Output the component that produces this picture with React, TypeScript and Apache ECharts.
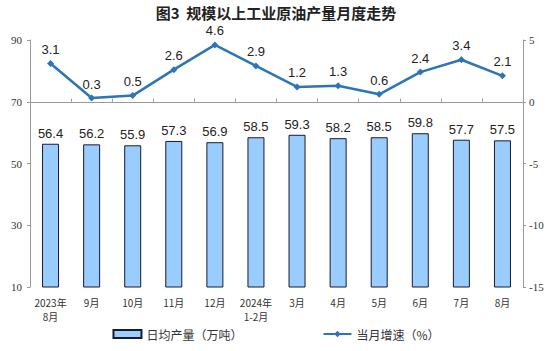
import React, { useEffect, useRef } from "react";
import * as echarts from "echarts";

const categories = ["2023年\n8月", "9月", "10月", "11月", "12月", "2024年\n1-2月", "3月", "4月", "5月", "6月", "7月", "8月"];
const dailyOutput = [56.4, 56.2, 55.9, 57.3, 56.9, 58.5, 59.3, 58.2, 58.5, 59.8, 57.7, 57.5];
const growth = [3.1, 0.3, 0.5, 2.6, 4.6, 2.9, 1.2, 1.3, 0.6, 2.4, 3.4, 2.1];

export default function App() {
  const ref = useRef<HTMLDivElement>(null);
  useEffect(() => {
    const chart = echarts.init(ref.current!, null, { renderer: "svg" });
    const serif = "'Liberation Serif', 'Times New Roman', serif";
    const sans = "'Liberation Sans', Arial, sans-serif";
    const cjk = "'Noto Sans CJK SC', sans-serif";
    chart.setOption({
      animation: false,
      backgroundColor: "#ffffff",
      title: {
        text: "图3  规模以上工业原油产量月度走势",
        left: "center",
        top: 4,
        padding: 0,
        textStyle: { fontFamily: cjk, fontSize: 15, fontWeight: "bold", color: "#222", lineHeight: 17 },
      },
      legend: {
        bottom: 6,
        left: "center",
        itemGap: 80,
        itemWidth: 28,
        itemHeight: 8,
        textStyle: { fontFamily: cjk, fontSize: 12, color: "#333" },
        data: [
          { name: "日均产量（万吨）", icon: "rect" },
          { name: "当月增速（%）" },
        ],
      },
      grid: { left: 30, right: 29, top: 40, bottom: 64 },
      xAxis: {
        type: "category",
        data: categories,
        axisLine: { lineStyle: { color: "#999" } },
        axisTick: { show: true, inside: true, length: 3, lineStyle: { color: "#999" } },
        axisLabel: { fontFamily: cjk, fontSize: 10, color: "#333", interval: 0, lineHeight: 14, margin: 8 },
      },
      yAxis: [
        {
          type: "value",
          min: 10,
          max: 90,
          interval: 20,
          splitLine: { show: false },
          axisLine: { show: true, lineStyle: { color: "#999" } },
          axisTick: { show: true, length: 3, lineStyle: { color: "#999" } },
          axisLabel: { fontFamily: serif, fontSize: 11, color: "#333", margin: 8 },
        },
        {
          type: "value",
          min: -15,
          max: 5,
          interval: 5,
          splitLine: { show: false },
          axisLine: { show: true, lineStyle: { color: "#999" } },
          axisTick: { show: true, length: 3, lineStyle: { color: "#999" } },
          axisLabel: { fontFamily: serif, fontSize: 11, color: "#333", margin: 6 },
        },
      ],
      series: [
        {
          name: "日均产量（万吨）",
          type: "bar",
          data: dailyOutput,
          barWidth: 17,
          itemStyle: { color: "#99CCFF", borderColor: "#1a1a2e", borderWidth: 1 },
          label: {
            show: true,
            position: "top",
            distance: 4,
            fontFamily: sans,
            fontSize: 13,
            color: "#222",
            formatter: (p: any) => p.value.toFixed(1),
          },
        },
        {
          name: "当月增速（%）",
          type: "line",
          yAxisIndex: 1,
          data: growth,
          symbol: "diamond",
          symbolSize: 7,
          lineStyle: { color: "#2E75B6", width: 2.5 },
          itemStyle: { color: "#2E75B6" },
          label: {
            show: true,
            position: "top",
            distance: 4,
            fontFamily: sans,
            fontSize: 13,
            color: "#222",
            formatter: (p: any) => p.value.toFixed(1),
          },
        },
      ],
    });
    return () => chart.dispose();
  }, []);
  return <div ref={ref} style={{ width: 552, height: 351, position: "absolute", left: 0, top: 0 }} />;
}
